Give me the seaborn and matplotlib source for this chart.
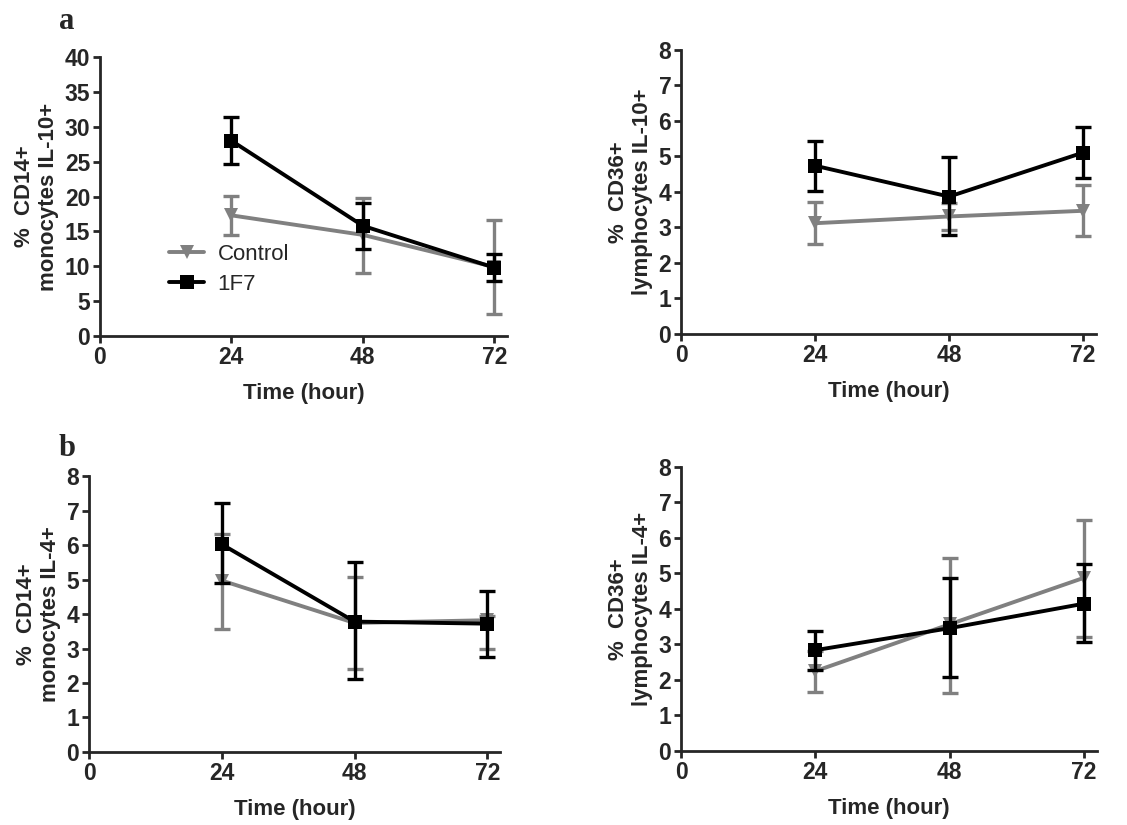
import matplotlib
matplotlib.use("Agg")
import matplotlib.pyplot as plt
import seaborn as sns
import pandas as pd

# time points (hours)
times = [24, 48, 72]
groups = ["Control", "1F7"]

# a-left: % CD14+ monocytes IL-10+
cd14_il10_control = [17.3, 14.5, 9.9]
cd14_il10_control_lo = [14.5, 9.0, 3.1]
cd14_il10_control_hi = [20.1, 19.8, 16.6]
cd14_il10_1f7 = [28.0, 15.8, 9.8]
cd14_il10_1f7_lo = [24.6, 12.5, 7.9]
cd14_il10_1f7_hi = [31.4, 19.1, 11.8]

# a-right: % CD36+ lymphocytes IL-10+
cd36_il10_control = [3.12, 3.31, 3.47]
cd36_il10_control_lo = [2.53, 2.92, 2.75]
cd36_il10_control_hi = [3.71, 3.69, 4.19]
cd36_il10_1f7 = [4.74, 3.87, 5.11]
cd36_il10_1f7_lo = [4.04, 2.79, 4.39]
cd36_il10_1f7_hi = [5.43, 4.98, 5.84]

# b-left: % CD14+ monocytes IL-4+
cd14_il4_control = [4.97, 3.74, 3.82]
cd14_il4_control_lo = [3.57, 2.40, 3.00]
cd14_il4_control_hi = [6.31, 5.06, 3.95]
cd14_il4_1f7 = [6.02, 3.78, 3.72]
cd14_il4_1f7_lo = [4.89, 2.11, 2.75]
cd14_il4_1f7_hi = [7.21, 5.50, 4.68]

# b-right: % CD36+ lymphocytes IL-4+
cd36_il4_control = [2.25, 3.57, 4.88]
cd36_il4_control_lo = [1.66, 1.64, 3.21]
cd36_il4_control_hi = [2.82, 5.44, 6.50]
cd36_il4_1f7 = [2.84, 3.46, 4.15]
cd36_il4_1f7_lo = [2.29, 2.08, 3.08]
cd36_il4_1f7_hi = [3.38, 4.88, 5.28]

x_ticks = [0, 24, 48, 72]

sns.set_style("ticks")
plt.rcParams["font.family"] = ["Liberation Sans", "DejaVu Sans"]

colors = {"Control": "#808080", "1F7": "#000000"}
markers = {"Control": "v", "1F7": "s"}


def panel(ax, data, ylabel, ymax, ystep, legend=False):
    z = 2
    for g in groups:
        d = data[data["group"] == g]
        ax.errorbar(
            d["time"], d["value"],
            yerr=[d["value"] - d["lo"], d["hi"] - d["value"]],
            fmt="none", ecolor=colors[g], elinewidth=2.4,
            capsize=5.5, capthick=2.4, zorder=z
        )
        sns.lineplot(
            data=d, x="time", y="value", ax=ax,
            color=colors[g], marker=markers[g], markersize=10,
            markeredgewidth=0, linewidth=2.8, label=g,
            legend=legend, zorder=z + 0.5
        )
        z += 1

    ax.set_xlim(0, 74.3)
    ax.set_ylim(0, ymax)
    ax.set_xticks(x_ticks)
    ax.set_yticks(range(0, ymax + 1, ystep))
    sns.despine(ax=ax)
    for s in ["left", "bottom"]:
        ax.spines[s].set_linewidth(2.0)
    ax.tick_params(width=2.0, length=5, pad=2, labelsize=16.5)
    for lab in ax.get_xticklabels() + ax.get_yticklabels():
        lab.set_fontweight("bold")
    ax.set_xlabel("Time (hour)", fontsize=16, fontweight="bold", labelpad=10)
    ax.set_ylabel(ylabel, fontsize=16, fontweight="bold", labelpad=4,
                  linespacing=1.2)

    if legend:
        ax.legend(loc="center left", bbox_to_anchor=(0.12, 0.24),
                  frameon=False, fontsize=16, handlelength=1.6,
                  labelspacing=0.4, handletextpad=0.6)
    elif ax.get_legend() is not None:
        ax.get_legend().remove()


def make_df(ctrl, ctrl_lo, ctrl_hi, f7, f7_lo, f7_hi):
    rows = []
    for i, t in enumerate(times):
        rows.append(["Control", t, ctrl[i], ctrl_lo[i], ctrl_hi[i]])
    for i, t in enumerate(times):
        rows.append(["1F7", t, f7[i], f7_lo[i], f7_hi[i]])
    return pd.DataFrame(rows, columns=["group", "time", "value", "lo", "hi"])


fig = plt.figure(figsize=(11.27, 8.25), dpi=100)

ax1 = fig.add_axes([0.0887, 0.5927, 0.3611, 0.3382])
ax2 = fig.add_axes([0.6043, 0.5952, 0.3682, 0.3442])
ax3 = fig.add_axes([0.0790, 0.0885, 0.3647, 0.3345])
ax4 = fig.add_axes([0.6043, 0.0897, 0.3691, 0.3443])

panel(ax1, make_df(cd14_il10_control, cd14_il10_control_lo, cd14_il10_control_hi,
                   cd14_il10_1f7, cd14_il10_1f7_lo, cd14_il10_1f7_hi),
      "%  CD14+\nmonocytes IL-10+", 40, 5, legend=True)
panel(ax2, make_df(cd36_il10_control, cd36_il10_control_lo, cd36_il10_control_hi,
                   cd36_il10_1f7, cd36_il10_1f7_lo, cd36_il10_1f7_hi),
      "%  CD36+\nlymphocytes IL-10+", 8, 1)
panel(ax3, make_df(cd14_il4_control, cd14_il4_control_lo, cd14_il4_control_hi,
                   cd14_il4_1f7, cd14_il4_1f7_lo, cd14_il4_1f7_hi),
      "%  CD14+\nmonocytes IL-4+", 8, 1)
panel(ax4, make_df(cd36_il4_control, cd36_il4_control_lo, cd36_il4_control_hi,
                   cd36_il4_1f7, cd36_il4_1f7_lo, cd36_il4_1f7_hi),
      "%  CD36+\nlymphocytes IL-4+", 8, 1)

fig.text(0.052, 0.992, "a", fontsize=22, fontweight="bold",
         family="Liberation Serif", va="top")
fig.text(0.052, 0.474, "b", fontsize=22, fontweight="bold",
         family="Liberation Serif", va="top")

fig.savefig("out.png", dpi=100)
